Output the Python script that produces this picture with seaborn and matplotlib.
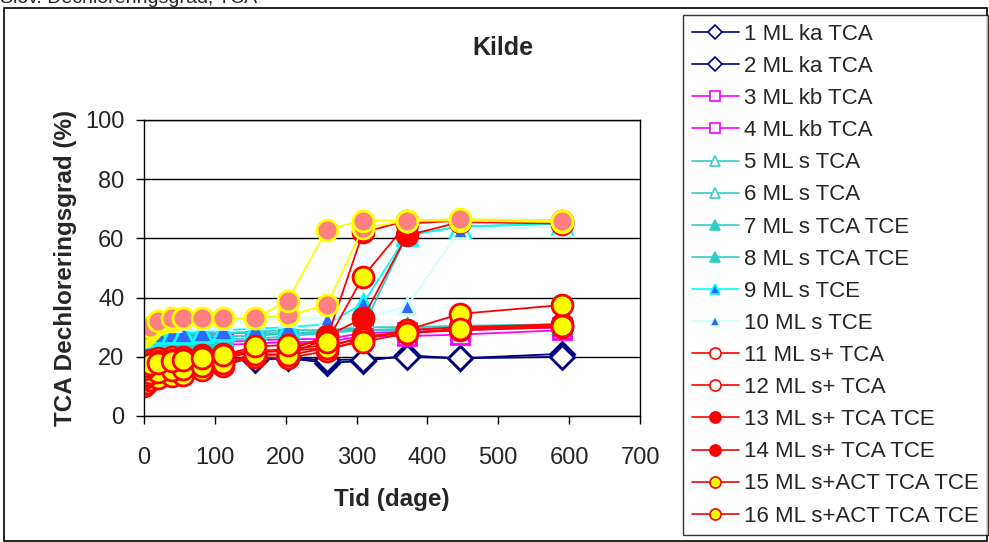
import seaborn as sns
import matplotlib.pyplot as plt
from matplotlib.lines import Line2D
from matplotlib.patches import Rectangle

# sampling times (days)
tid = [0, 4, 8, 20, 40, 55, 82, 111, 157, 203, 258, 309, 371, 446, 590]

# TCA dechlorination degree (%) per microcosm
ml1 = [18, 18, 18, 18.5, 18.5, 19, 19, 19, 19.5, 19.5, 18, 18.5, 20.5, 19.5, 21]
ml2 = [17.5, 17.5, 18, 18, 18.5, 18.5, 19, 19, 19, 19.5, 19, 19, 20, 19.5, 20]
ml3 = [22, 23, 23, 24, 24, 24.5, 25, 25, 25.5, 26, 26, 28, 28.5, 29, 30]
ml4 = [21, 22, 22.5, 23, 23, 23.5, 24, 24, 24.5, 25, 25, 27, 27, 27.5, 29]
ml5 = [26, 27, 27, 28, 28, 28, 28, 28, 28.5, 29, 29, 30, 30, 30.5, 31]
ml6 = [25, 26, 26, 27, 27, 27.5, 27.5, 28, 28, 28, 28.5, 29, 29.5, 30, 31]
ml7 = [24, 25, 25, 26, 26, 26.5, 27, 27, 27, 28, 28, 29, 29, 30, 31]
ml8 = [23, 24, 24, 25, 25, 25.5, 26, 26, 26, 27, 28, 30, 61, 64, 65]
ml9 = [26, 27, 27, 28, 28, 28, 28.5, 29, 29.5, 30, 31, 38, 61, 64, 65]
ml10 = [28, 29, 30, 31, 31.5, 32, 32, 32, 32.5, 33, 33, 33, 37, 63, 64]
ml11 = [18, 18.5, 19, 19.5, 20, 20, 20.5, 21, 22, 22.5, 24, 26, 29, 30, 31]
ml12 = [17, 17.5, 18, 18.5, 19, 19.5, 20, 20.5, 21.5, 22, 23, 27, 28, 29, 30]
ml13 = [12, 13, 13.5, 14, 15, 15.5, 17, 18, 20.5, 21, 26, 62, 66, 66, 65.5]
ml14 = [14, 15, 15.5, 16, 17, 17.5, 18, 19, 22, 22, 27, 33, 61, 65.5, 65]
ml15 = [10, 11, 12, 13, 13.5, 14, 15.5, 17, 20, 19.5, 22, 26, 29, 34.5, 37.5]
ml16 = [13, 14, 14.5, 15, 15.5, 16, 17, 18, 21, 20.5, 23, 25, 28, 29.5, 30.5]
# series drawn but not shown in the (clipped) legend
extra_gul = [16, 17, 17.5, 18, 18.5, 19, 19.5, 20.5, 23.5, 24, 25, 47, 65, 66, 66]
laks_a = [28, 29, 30, 32, 33, 33, 33, 33, 33, 39, 63, 66, 66, 66.5, 66]
laks_b = [27, 28, 29, 31, 32, 33, 33, 33, 33, 34, 37.5, 63.5, 66, 66, 65.5]

navy, magenta, turk = "#000080", "#FF00FF", "#33CCCC"
cyan, lysecyan, blaa = "#00FFFF", "#CCFFFF", "#3366FF"
roed, gul, laks = "#FF0000", "#FFFF00", "#FF8080"

# label, data, line colour, marker, face, edge, marker size
serier = [
    ("1 ML ka TCA", ml1, navy, "D", "white", navy, 12),
    ("2 ML ka TCA", ml2, navy, "D", "white", navy, 12),
    ("3 ML kb TCA", ml3, magenta, "s", "white", magenta, 13),
    ("4 ML kb TCA", ml4, magenta, "s", "white", magenta, 13),
    ("5 ML s TCA", ml5, turk, "^", "white", turk, 13),
    ("6 ML s TCA", ml6, turk, "^", "white", turk, 13),
    ("7 ML s TCA TCE", ml7, turk, "^", turk, turk, 13),
    ("8 ML s TCA TCE", ml8, turk, "^", turk, turk, 13),
    ("9 ML s TCE", ml9, cyan, "^", blaa, cyan, 14),
    ("10 ML s TCE", ml10, lysecyan, "^", blaa, lysecyan, 12),
    ("11 ML s+ TCA", ml11, roed, "o", "white", roed, 15),
    ("12 ML s+ TCA", ml12, roed, "o", "white", roed, 15),
    ("13 ML s+ TCA TCE", ml13, roed, "o", roed, roed, 15),
    ("14 ML s+ TCA TCE", ml14, roed, "o", roed, roed, 15),
    ("15 ML s+ACT TCA TCE", ml15, roed, "o", gul, roed, 15),
    ("16 ML s+ACT TCA TCE", ml16, roed, "o", gul, roed, 15),
    (None, extra_gul, roed, "o", gul, roed, 15),
    (None, laks_b, gul, "o", laks, gul, 15),
    (None, laks_a, gul, "o", laks, gul, 15),
]

sns.set_style("white")
plt.rcParams["font.family"] = ["Liberation Sans", "DejaVu Sans"]

fig = plt.figure(figsize=(9.89, 5.42), dpi=100)
ax = fig.add_axes([144 / 989, 1 - 416 / 542, 496 / 989, 296 / 542])

handles, labels = [], []
for label, vals, farve, mk, face, kant, ms in serier:
    sns.lineplot(x=tid, y=vals, ax=ax, color=farve, linewidth=1.3,
                 marker=mk, markersize=ms, markerfacecolor=face,
                 markeredgecolor=kant, markeredgewidth=2, legend=False)
    if label:
        handles.append(Line2D([], [], color=farve, linewidth=1.2, marker=mk,
                              markersize=7 if mk != "o" else 8,
                              markerfacecolor=face, markeredgecolor=kant,
                              markeredgewidth=1.2))
        labels.append(label)

ax.set_xlim(0, 700)
ax.set_ylim(0, 100)
ax.set_xticks(range(0, 701, 100))
ax.set_yticks(range(0, 101, 20))
ax.yaxis.grid(True, color="black", linewidth=1)
ax.set_axisbelow(True)
for s in ax.spines.values():
    s.set_color("black")
    s.set_linewidth(1)
ax.tick_params(axis="both", which="both", direction="out", length=6, width=1,
               color="black", labelsize=17, left=True, bottom=True)
ax.tick_params(axis="x", pad=16)
ax.tick_params(axis="y", pad=8)
ax.set_xlabel("Tid (dage)", fontsize=17.5, fontweight="bold", labelpad=14)
ax.set_ylabel("TCA Dechloreringsgrad (%)", fontsize=17.5, fontweight="bold",
              labelpad=6)

fig.text(503 / 989, 1 - 48 / 542, "Kilde", fontsize=18, fontweight="bold",
         ha="center", va="center")
fig.text(0.0, 1 - 3 / 542, "Slov. Dechloreringsgrad, TCA", fontsize=14,
         ha="left", va="baseline")

fig.patches.append(Rectangle((4 / 989, 1 / 542), 983 / 989, 533 / 542,
                             transform=fig.transFigure, fill=False,
                             edgecolor="black", linewidth=1.2))

leg = fig.legend(handles, labels, loc="upper left",
                 bbox_to_anchor=(683 / 989, 1 - 15 / 542), fontsize=16,
                 frameon=True, fancybox=False, edgecolor="black",
                 labelspacing=0.5, handlelength=2.1, handletextpad=0.25,
                 borderpad=0.4, borderaxespad=0)
leg.get_frame().set_linewidth(1)

fig.savefig("out.png", dpi=100)
